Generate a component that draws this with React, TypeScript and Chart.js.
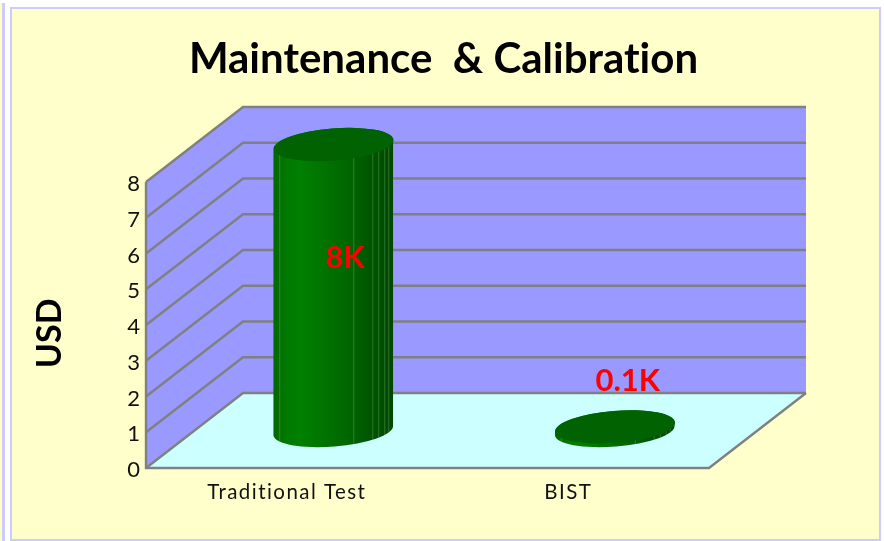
import React, { useEffect, useRef } from "react";
import { Chart, registerables } from "chart.js";

Chart.register(...registerables);

const categories = ["Traditional Test", "BIST"];
const usdThousands = [8, 0.1];
const valueLabels = ["8K", "0.1K"];
const yTicks = [0, 1, 2, 3, 4, 5, 6, 7, 8];
const chartTitle = "Maintenance  & Calibration";
const yTitle = "USD";

const FONT = "Lato, 'Open Sans', sans-serif";
const DEPTH_X = 97;
const DEPTH_Y = 75;
const BAR_SHIFT_X = 46.5;
const BAR_SHIFT_Y = 37.5;
const RY = 16;
const TILT = -0.08;
const LINE = "#808080";
const WALL = "#9999FF";
const FLOOR = "#CCFFFF";
const PAPER = "#FFFFCC";
const EDGE = "#CCCCFF";
const LID = "#006200";
const FACETS = [-54, 20, 39, 45, 51, 55];
const LABEL_OFFSET = [
  { dx: 12, dy: 113 },
  { dx: 13, dy: -46 },
];

const framePlugin = {
  id: "frame",
  beforeDraw(chart: any) {
    const { ctx, width, height } = chart;
    const xScale = chart.scales.x;
    // a tiny spacing keeps Lato from merging "ti" into a ligature
    ctx.letterSpacing = "0.01px";
    if (!xScale.__spaced) {
      const drawLabels = xScale.drawLabels;
      xScale.drawLabels = function (area: any) {
        ctx.letterSpacing = "1.45px";
        drawLabels.call(this, area);
        ctx.letterSpacing = "0.01px";
      };
      xScale.__spaced = true;
    }
    ctx.save();
    ctx.fillStyle = "#FFFFFF";
    ctx.fillRect(0, 0, width, height);
    ctx.fillStyle = PAPER;
    ctx.fillRect(0, 3, 2, height);
    ctx.fillStyle = EDGE;
    ctx.fillRect(2, 3, 3, height);
    ctx.fillRect(10, 7, 871, 534);
    ctx.fillStyle = PAPER;
    ctx.fillRect(12, 9, 867, 530);
    ctx.restore();
  },
  beforeDatasetsDraw(chart: any) {
    const { ctx, chartArea, scales } = chart;
    const { left, right } = chartArea;
    const y = scales.y;
    const y0 = y.getPixelForValue(0);
    const yTop = y.getPixelForValue(yTicks[yTicks.length - 1]);
    ctx.save();
    ctx.fillStyle = WALL;
    ctx.fillRect(left + DEPTH_X, yTop - DEPTH_Y, right - left, y0 - yTop);
    ctx.beginPath();
    ctx.moveTo(left, y0);
    ctx.lineTo(left, yTop);
    ctx.lineTo(left + DEPTH_X, yTop - DEPTH_Y);
    ctx.lineTo(left + DEPTH_X, y0 - DEPTH_Y);
    ctx.closePath();
    ctx.fill();
    ctx.fillStyle = FLOOR;
    ctx.beginPath();
    ctx.moveTo(left, y0);
    ctx.lineTo(right, y0);
    ctx.lineTo(right + DEPTH_X, y0 - DEPTH_Y);
    ctx.lineTo(left + DEPTH_X, y0 - DEPTH_Y);
    ctx.closePath();
    ctx.fill();
    ctx.strokeStyle = LINE;
    ctx.lineWidth = 2.4;
    for (const t of yTicks) {
      const p = y.getPixelForValue(t);
      ctx.beginPath();
      ctx.moveTo(left, p);
      ctx.lineTo(left + DEPTH_X, p - DEPTH_Y);
      ctx.lineTo(right + DEPTH_X, p - DEPTH_Y);
      ctx.stroke();
    }
    ctx.beginPath();
    ctx.moveTo(left, yTop);
    ctx.lineTo(left, y0);
    ctx.lineTo(right, y0);
    ctx.lineTo(right + DEPTH_X, y0 - DEPTH_Y);
    ctx.stroke();
    ctx.restore();
  },
  beforeDatasetDraw(chart: any, args: any) {
    const { ctx } = chart;
    ctx.save();
    for (const el of args.meta.data) {
      const cx = el.x + BAR_SHIFT_X;
      const half = el.width / 2;
      const topY = el.y - BAR_SHIFT_Y;
      const baseY = el.base - BAR_SHIFT_Y;
      const g = ctx.createLinearGradient(cx - half, 0, cx + half, 0);
      g.addColorStop(0, "#006800");
      g.addColorStop(0.12, "#007A00");
      g.addColorStop(0.22, "#008000");
      g.addColorStop(0.6, "#006800");
      g.addColorStop(0.82, "#005400");
      g.addColorStop(1, "#004800");
      ctx.save();
      ctx.beginPath();
      ctx.ellipse(cx, baseY, half, RY, TILT, 0, Math.PI);
      ctx.ellipse(cx, topY, half, RY, TILT, Math.PI, 0);
      ctx.closePath();
      ctx.fillStyle = g;
      ctx.fill();
      ctx.clip();
      ctx.strokeStyle = "rgba(130,190,130,0.35)";
      ctx.lineWidth = 1;
      for (const f of FACETS) {
        ctx.beginPath();
        ctx.moveTo(cx + f + 0.5, topY - RY * 2);
        ctx.lineTo(cx + f + 0.5, baseY + RY * 2);
        ctx.stroke();
      }
      ctx.restore();
      ctx.fillStyle = LID;
      ctx.beginPath();
      ctx.ellipse(cx + 0.5, topY, half, RY, TILT, 0, Math.PI * 2);
      ctx.fill();
    }
    ctx.restore();
    return false;
  },
  afterDatasetsDraw(chart: any) {
    const { ctx } = chart;
    const meta = chart.getDatasetMeta(0);
    ctx.save();
    ctx.fillStyle = "#FF0000";
    ctx.font = `bold 31px ${FONT}`;
    ctx.textAlign = "center";
    ctx.textBaseline = "middle";
    meta.data.forEach((el: any, i: number) => {
      const cx = el.x + BAR_SHIFT_X + LABEL_OFFSET[i].dx;
      const topY = el.y - BAR_SHIFT_Y + LABEL_OFFSET[i].dy;
      ctx.fillText(valueLabels[i], cx, topY);
    });
    ctx.restore();
  },
};

export default function App() {
  const ref = useRef<HTMLCanvasElement>(null);
  useEffect(() => {
    const chart = new Chart(ref.current as HTMLCanvasElement, {
      type: "bar",
      data: {
        labels: categories,
        datasets: [
          {
            label: yTitle,
            data: usdThousands,
            backgroundColor: "#007000",
            barThickness: 120,
          },
        ],
      },
      options: {
        animation: false,
        responsive: false,
        devicePixelRatio: 1,
        layout: { padding: { left: 3, right: 0, top: 0, bottom: 0 } },
        plugins: {
          legend: { display: false },
          tooltip: { enabled: false },
          title: {
            display: true,
            text: chartTitle,
            color: "#000000",
            font: { family: FONT, size: 42, weight: "bold", lineHeight: 1.2 },
            padding: { top: 34, bottom: 97.6 },
          },
        },
        scales: {
          x: {
            grid: { display: false, drawTicks: false },
            border: { display: false },
            ticks: {
              color: "#111111",
              font: { family: FONT, size: 20.5 },
              padding: 12,
              maxRotation: 0,
            },
            afterFit(scale: any) {
              scale.height = 73;
            },
          },
          y: {
            min: 0,
            max: 8,
            grid: { display: false, drawTicks: false },
            border: { display: false },
            ticks: {
              color: "#111111",
              font: { family: FONT, size: 22 },
              padding: 6,
              stepSize: 1,
              labelOffset: 2,
            },
            title: {
              display: true,
              text: yTitle + "  ",
              color: "#000000",
              font: { family: FONT, size: 34, weight: "bold", lineHeight: 1.2 },
              padding: { top: 27, bottom: 0 },
            },
            afterFit(scale: any) {
              scale.width = 143;
            },
          },
          rightGap: {
            axis: "y",
            position: "right",
            display: true,
            grid: { display: false, drawTicks: false },
            border: { display: false },
            ticks: { display: false },
            afterFit(scale: any) {
              scale.width = 175;
            },
          },
        },
      },
      plugins: [framePlugin],
    } as any);
    return () => chart.destroy();
  }, []);
  return (
    <div style={{ position: "fixed", left: 0, top: 0, width: 884, height: 541 }}>
      <canvas ref={ref} width={884} height={541} style={{ display: "block" }} />
    </div>
  );
}
